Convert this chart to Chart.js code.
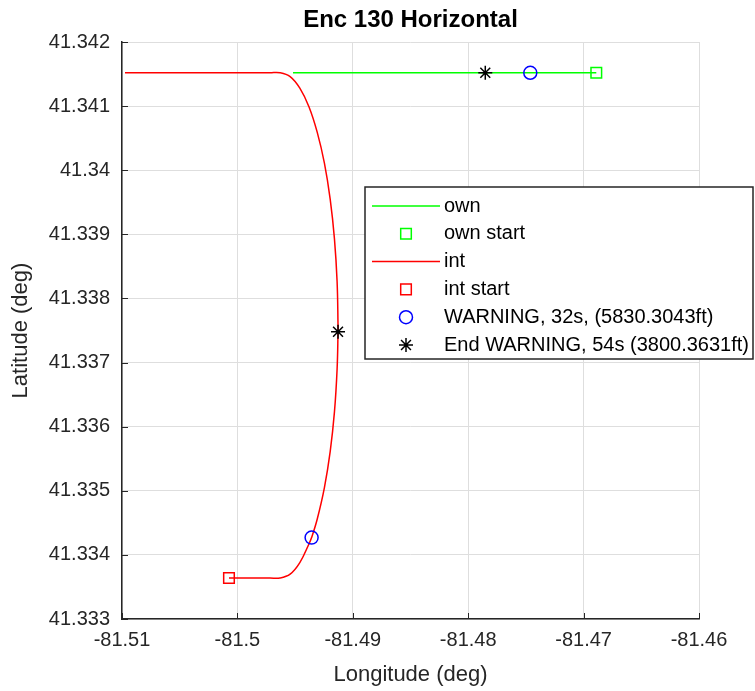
<!DOCTYPE html>
<html>
<head>
<meta charset="utf-8">
<script src="https://cdn.jsdelivr.net/npm/chart.js@4"></script>
<style>
  html, body { margin: 0; padding: 0; background: #fff; }
</style>
</head>
<body>
<canvas id="encChart" width="755" height="691"></canvas>
<script>
// ownship track (lon / lat)
const ownLon = [-81.46890, -81.49518];
const ownLat = [41.34152, 41.34152];
const ownStartLon = [-81.46890];
const ownStartLat = [41.34152];

// intruder track (east, turn north, then west)
const intLon = [-81.50073, -81.49717, -81.49631, -81.49543, -81.49459, -81.49380, -81.49357,
  -81.49308, -81.49246, -81.49196, -81.49159, -81.49136, -81.49128, -81.49128, -81.49136,
  -81.49159, -81.49196, -81.49246, -81.49308, -81.49380, -81.49459, -81.49543, -81.49631,
  -81.49717, -81.50974];
const intLat = [41.33364, 41.33364, 41.33364, 41.33370, 41.33388, 41.33417, 41.33427,
  41.33456, 41.33505, 41.33561, 41.33623, 41.33690, 41.33748, 41.33758, 41.33826,
  41.33893, 41.33955, 41.34011, 41.34059, 41.34099, 41.34128, 41.34146, 41.34152,
  41.34152, 41.34152];
const intStartLon = [-81.50073];
const intStartLat = [41.33364];

// warning start / end positions (own, int)
const warnLon = [-81.47462, -81.49357];
const warnLat = [41.34152, 41.33427];
const endWarnLon = [-81.47852, -81.49128];
const endWarnLat = [41.34152, 41.33748];

const xTicks = [-81.51, -81.50, -81.49, -81.48, -81.47, -81.46];
const yTicks = [41.333, 41.334, 41.335, 41.336, 41.337, 41.338, 41.339, 41.340, 41.341, 41.342];

const fam = '"Liberation Sans", Arial, Helvetica, sans-serif';
const axisCol = '#262626';

function toXY(xs, ys) {
    return xs.map((x, i) => ({ x: x, y: ys[i] }));
}

// MATLAB-like ticks pointing into the axes
const innerTicks = {
    id: 'innerTicks',
    afterDraw(chart) {
        const ctx = chart.ctx, a = chart.chartArea;
        const xs = chart.scales.x, ys = chart.scales.y;
        ctx.save();
        ctx.strokeStyle = axisCol;
        ctx.lineWidth = 1;
        ctx.beginPath();
        xs.ticks.forEach(t => {
            const p = Math.round(xs.getPixelForValue(t.value)) + 0.5;
            ctx.moveTo(p, a.bottom);
            ctx.lineTo(p, a.bottom - 6);
        });
        ys.ticks.forEach(t => {
            const p = Math.round(ys.getPixelForValue(t.value)) + 0.5;
            ctx.moveTo(a.left, p);
            ctx.lineTo(a.left + 6, p);
        });
        ctx.stroke();
        ctx.restore();
    }
};

function marker(ctx, style, r, x, y) {
    ctx.beginPath();
    if (style === 'rect') {
        const s = r * Math.SQRT1_2;
        ctx.rect(x - s, y - s, 2 * s, 2 * s);
    } else if (style === 'circle') {
        ctx.arc(x, y, r, 0, Math.PI * 2);
    } else if (style === 'star') {
        for (let k = 0; k < 4; k++) {
            const ang = k * Math.PI / 4;
            ctx.moveTo(x + Math.cos(ang) * r, y + Math.sin(ang) * r);
            ctx.lineTo(x - Math.cos(ang) * r, y - Math.sin(ang) * r);
        }
    }
    ctx.stroke();
}

// legend box inside the plot, like the MATLAB one
const boxLegend = {
    id: 'boxLegend',
    afterDraw(chart) {
        const ctx = chart.ctx;
        const bx = 365, by = 187, bw = 388, bh = 172;
        ctx.save();
        ctx.fillStyle = '#fff';
        ctx.fillRect(bx, by, bw, bh);
        ctx.strokeStyle = axisCol;
        ctx.lineWidth = 1.5;
        ctx.strokeRect(bx, by, bw, bh);
        ctx.font = '20px ' + fam;
        ctx.textBaseline = 'middle';
        chart.data.datasets.forEach((ds, i) => {
            const yy = by + 19 + i * 27.8;
            ctx.strokeStyle = ds.borderColor;
            ctx.lineWidth = 1.5;
            if (ds.showLine) {
                ctx.beginPath();
                ctx.moveTo(372, yy);
                ctx.lineTo(440, yy);
                ctx.stroke();
            } else {
                marker(ctx, ds.pointStyle, ds.pointRadius, 406, yy);
            }
            ctx.fillStyle = '#000';
            ctx.fillText(ds.label, 444, yy);
        });
        ctx.restore();
    }
};

const ctx = document.getElementById('encChart').getContext('2d');
const encChart = new Chart(ctx, {
    type: 'scatter',
    data: {
        datasets: [
            {
                label: 'own', data: toXY(ownLon, ownLat), showLine: true,
                borderColor: '#00ff00', borderWidth: 1.5, pointRadius: 0, order: 3
            },
            {
                label: 'own start', data: toXY(ownStartLon, ownStartLat), showLine: false,
                pointStyle: 'rect', pointRadius: 7.5, borderColor: '#00ff00',
                backgroundColor: 'rgba(0,0,0,0)', pointBorderWidth: 1.5, order: 1
            },
            {
                label: 'int', data: toXY(intLon, intLat), showLine: true, tension: 0.4,
                borderColor: '#ff0000', borderWidth: 1.5, pointRadius: 0, order: 3
            },
            {
                label: 'int start', data: toXY(intStartLon, intStartLat), showLine: false,
                pointStyle: 'rect', pointRadius: 7.5, borderColor: '#ff0000',
                backgroundColor: 'rgba(0,0,0,0)', pointBorderWidth: 1.5, order: 1
            },
            {
                label: 'WARNING, 32s, (5830.3043ft)', data: toXY(warnLon, warnLat), showLine: false,
                pointStyle: 'circle', pointRadius: 6.5, borderColor: '#0000ff',
                backgroundColor: 'rgba(0,0,0,0)', pointBorderWidth: 1.5, order: 1
            },
            {
                label: 'End WARNING, 54s (3800.3631ft)', data: toXY(endWarnLon, endWarnLat), showLine: false,
                pointStyle: 'star', pointRadius: 7, borderColor: '#000000',
                backgroundColor: 'rgba(0,0,0,0)', pointBorderWidth: 1.5, order: 1
            }
        ]
    },
    options: {
        responsive: false,
        animation: false,
        events: [],
        layout: { padding: { left: 0, right: 56, top: 0, bottom: 0 } },
        scales: {
            x: {
                type: 'linear', min: -81.51, max: -81.46,
                afterBuildTicks: s => { s.ticks = xTicks.map(v => ({ value: v })); },
                afterFit: s => { s.height = 72; },
                ticks: {
                    callback: v => String(+Number(v).toFixed(2)),
                    padding: 9, color: axisCol, font: { size: 20, family: fam }
                },
                grid: { color: '#dedede', drawTicks: false },
                border: { color: axisCol, width: 1.5 },
                title: {
                    display: true, text: 'Longitude (deg)', color: axisCol,
                    font: { size: 22, family: fam }, padding: { top: 0, bottom: 3 }
                }
            },
            y: {
                type: 'linear', min: 41.333, max: 41.342,
                afterBuildTicks: s => { s.ticks = yTicks.map(v => ({ value: v })); },
                afterFit: s => { s.width = 122; },
                ticks: {
                    callback: v => String(+Number(v).toFixed(3)),
                    padding: 12, color: axisCol, font: { size: 20, family: fam }
                },
                grid: { color: '#dedede', drawTicks: false },
                border: { color: axisCol, width: 1.5 },
                title: {
                    display: true, text: 'Latitude (deg)', color: axisCol,
                    font: { size: 22, family: fam }, padding: { top: 8, bottom: 0 }
                }
            }
        },
        plugins: {
            legend: { display: false },
            tooltip: { enabled: false },
            title: {
                display: true, text: 'Enc 130 Horizontal', color: '#000',
                fullSize: false,
                font: { size: 24, weight: 'bold', family: fam },
                padding: { top: 6, bottom: 7.2 }
            }
        }
    },
    plugins: [innerTicks, boxLegend]
});
</script>
</body>
</html>
